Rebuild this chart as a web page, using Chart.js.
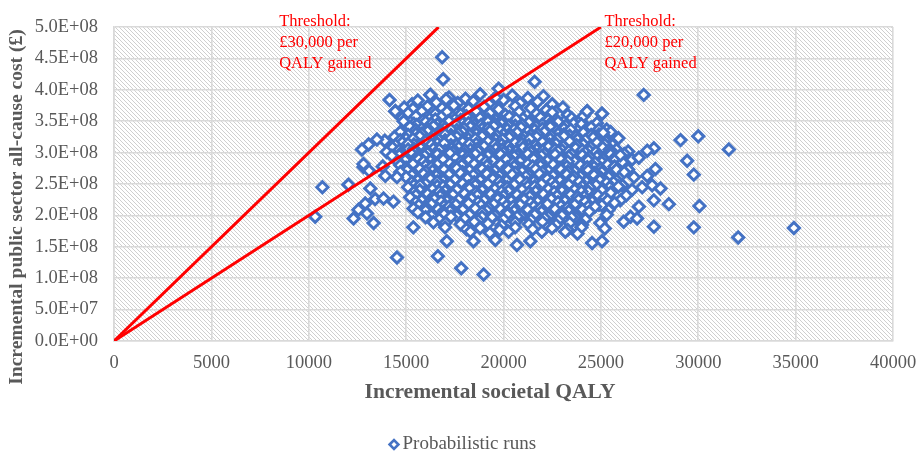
<!DOCTYPE html>
<html>
<head>
<meta charset="utf-8">
<script src="https://cdn.jsdelivr.net/npm/chart.js@4.4.1/dist/chart.umd.min.js"></script>
<style>
  html, body { margin: 0; padding: 0; background: #ffffff; }
  canvas { display: block; }
</style>
</head>
<body>
<canvas id="chart" width="919" height="453"></canvas>
<script>
// Axis ranges (incremental QALY on x, incremental cost in £ on y)
const qalyMax = 40000;
const qalyStep = 5000;
const costMax = 5e8;
const costStep = 5e7;

// Willingness-to-pay thresholds (£ per QALY gained) and their labels
const thresholds = [30000, 20000];
const thresholdLabels = [
  ['Threshold:', '£30,000 per', 'QALY gained'],
  ['Threshold:', '£20,000 per', 'QALY gained']
];
const thresholdLabelQaly = [8480, 25180];

const seriesName = 'Probabilistic runs';

// Probabilistic sensitivity analysis runs: [incremental QALY, incremental cost £]
const probabilisticRuns = [
  [16250,3.92e8],[17200,3.88e8],[18050,3.86e8],[18800,3.93e8],[19750,4.02e8],[20450,3.91e8],[21250,3.87e8],
  [21600,4.13e8],[22050,3.90e8],[16850,4.52e8],[16900,4.17e8],[14150,3.84e8],[15300,3.77e8],
  [14450,3.66e8],[15600,3.83e8],[16550,3.80e8],[17650,3.79e8],[18450,3.82e8],[19250,3.78e8],[20000,3.84e8],
  [20850,3.79e8],[21750,3.81e8],[22500,3.77e8],[17050,3.85e8],[19600,3.88e8],
  [14900,3.72e8],[15350,3.70e8],[16100,3.74e8],[16850,3.71e8],[17450,3.75e8],[18200,3.70e8],[19000,3.73e8],
  [19750,3.69e8],[20600,3.74e8],[21400,3.71e8],[22200,3.68e8],[23050,3.72e8],
  [15100,3.63e8],[15800,3.66e8],[16500,3.62e8],[17100,3.65e8],[17800,3.61e8],[18600,3.66e8],[19300,3.63e8],
  [20100,3.60e8],[20800,3.65e8],[21700,3.62e8],[22500,3.64e8],[23300,3.60e8],[24300,3.66e8],[25050,3.62e8],
  [14800,3.55e8],[15500,3.58e8],[16200,3.54e8],[16800,3.57e8],[17500,3.53e8],[18100,3.58e8],[18800,3.55e8],
  [19600,3.52e8],[20300,3.57e8],[21000,3.54e8],[21900,3.56e8],[22700,3.52e8],[23500,3.55e8],[24100,3.58e8],
  [15850,3.51e8],[16500,3.53e8],[17150,3.50e8],[17800,3.52e8],[18450,3.49e8],[19200,3.53e8],[19900,3.51e8],
  [20650,3.53e8],[21350,3.50e8],[22300,3.52e8],[23100,3.49e8],
  [14870,3.50e8],[15400,3.46e8],[16000,3.49e8],[16600,3.45e8],[17200,3.50e8],[17900,3.47e8],[18500,3.44e8],
  [19200,3.49e8],[19900,3.46e8],[20600,3.43e8],[21300,3.48e8],[22000,3.45e8],[22800,3.49e8],[23600,3.46e8],
  [24200,3.43e8],[24800,3.47e8],
  [15550,3.44e8],[16300,3.46e8],[16900,3.43e8],[17550,3.45e8],[18200,3.47e8],[18850,3.44e8],[19550,3.46e8],
  [20250,3.43e8],[20950,3.45e8],[21650,3.42e8],[22400,3.46e8],[23200,3.43e8],[24000,3.45e8],
  [15200,3.41e8],[15800,3.38e8],[16400,3.42e8],[17000,3.39e8],[17600,3.36e8],[18300,3.41e8],[18900,3.38e8],
  [19500,3.42e8],[20200,3.37e8],[20900,3.40e8],[21600,3.36e8],[22400,3.41e8],[23100,3.38e8],[23800,3.35e8],
  [24500,3.40e8],[25300,3.37e8],
  [15500,3.36e8],[16100,3.38e8],[16750,3.35e8],[17300,3.37e8],[17950,3.39e8],[18600,3.36e8],[19200,3.38e8],
  [19850,3.35e8],[20550,3.37e8],[21250,3.34e8],[22000,3.38e8],[22750,3.35e8],[23450,3.37e8],[24150,3.34e8],
  [24900,3.37e8],
  [14700,3.33e8],[15500,3.30e8],[16100,3.34e8],[16700,3.31e8],[17300,3.28e8],[17900,3.33e8],[18600,3.30e8],
  [19300,3.34e8],[20000,3.29e8],[20700,3.32e8],[21400,3.28e8],[22100,3.33e8],[22800,3.30e8],[23400,3.27e8],
  [24100,3.32e8],[24900,3.29e8],[25500,3.33e8],
  [15100,3.28e8],[15800,3.30e8],[16400,3.27e8],[17000,3.29e8],[17650,3.31e8],[18250,3.28e8],[18950,3.30e8],
  [19650,3.27e8],[20350,3.29e8],[21050,3.26e8],[21750,3.30e8],[22450,3.27e8],[23100,3.29e8],[23750,3.26e8],
  [24500,3.28e8],[25200,3.25e8],
  [14400,3.25e8],[15000,3.22e8],[15700,3.26e8],[16300,3.23e8],[17000,3.20e8],[17600,3.25e8],[18200,3.22e8],
  [18900,3.26e8],[19600,3.21e8],[20300,3.24e8],[21000,3.20e8],[21700,3.25e8],[22400,3.22e8],[23100,3.26e8],
  [23800,3.21e8],[24600,3.24e8],[25200,3.20e8],[25900,3.23e8],
  [14700,3.20e8],[15350,3.22e8],[16000,3.19e8],[16650,3.21e8],[17300,3.23e8],[17950,3.20e8],[18550,3.22e8],
  [19250,3.19e8],[19950,3.21e8],[20650,3.18e8],[21350,3.22e8],[22050,3.19e8],[22750,3.21e8],[23450,3.18e8],
  [24200,3.20e8],[24950,3.17e8],
  [13900,3.19e8],[14800,3.16e8],[15400,3.13e8],[16000,3.18e8],[16600,3.15e8],[17300,3.12e8],[17900,3.17e8],
  [18600,3.14e8],[19200,3.18e8],[19900,3.13e8],[20600,3.16e8],[21300,3.12e8],[22000,3.17e8],[22700,3.14e8],
  [23400,3.18e8],[24100,3.13e8],[24800,3.16e8],[25600,3.12e8],
  [14450,3.12e8],[15100,3.14e8],[15750,3.11e8],[16300,3.13e8],[16950,3.15e8],[17600,3.12e8],[18250,3.14e8],
  [18900,3.11e8],[19550,3.13e8],[20250,3.10e8],[20950,3.14e8],[21650,3.11e8],[22350,3.13e8],[23050,3.10e8],
  [23750,3.12e8],[24450,3.09e8],[25200,3.13e8],
  [14300,3.08e8],[15100,3.05e8],[15700,3.09e8],[16400,3.06e8],[17000,3.03e8],[17700,3.08e8],[18300,3.05e8],
  [19000,3.10e8],[19600,3.06e8],[20300,3.03e8],[21000,3.08e8],[21700,3.05e8],[22300,3.09e8],[23000,3.04e8],
  [23700,3.07e8],[24400,3.03e8],[25100,3.08e8],[25800,3.05e8],[26400,3.02e8],
  [14650,3.04e8],[15400,3.06e8],[16050,3.03e8],[16700,3.05e8],[17350,3.07e8],[18000,3.04e8],[18650,3.06e8],
  [19300,3.03e8],[19950,3.05e8],[20650,3.02e8],[21350,3.06e8],[22000,3.03e8],[22650,3.05e8],[23350,3.02e8],
  [24050,3.04e8],[24750,3.01e8],[25450,3.05e8],
  [14000,3.01e8],[14700,2.98e8],[15400,3.02e8],[16100,2.99e8],[16700,2.96e8],[17400,3.01e8],[18000,2.98e8],
  [18700,3.02e8],[19300,2.97e8],[20000,3.00e8],[20700,2.96e8],[21400,3.01e8],[22100,2.98e8],[22800,3.02e8],
  [23500,2.97e8],[24200,3.00e8],[24900,2.96e8],[25500,3.01e8],[26200,2.98e8],
  [14650,2.96e8],[15300,2.98e8],[15950,2.95e8],[16600,2.97e8],[17250,2.99e8],[17900,2.96e8],[18550,2.98e8],
  [19200,2.95e8],[19850,2.97e8],[20550,2.94e8],[21250,2.98e8],[21950,2.95e8],[22650,2.97e8],[23350,2.94e8],
  [24050,2.96e8],[24800,2.93e8],[25500,2.97e8],
  [14270,2.95e8],[15000,2.91e8],[15600,2.94e8],[16300,2.90e8],[16900,2.93e8],[17600,2.89e8],[18200,2.94e8],
  [18900,2.91e8],[19500,2.88e8],[20200,2.93e8],[20900,2.90e8],[21600,2.94e8],[22300,2.89e8],[23000,2.92e8],
  [23700,2.88e8],[24400,2.93e8],[25100,2.90e8],[25800,2.94e8],[26600,2.89e8],
  [14950,2.88e8],[15650,2.90e8],[16250,2.87e8],[16900,2.89e8],[17550,2.91e8],[18200,2.88e8],[18850,2.90e8],
  [19450,2.87e8],[20150,2.89e8],[20850,2.86e8],[21550,2.90e8],[22250,2.87e8],[22950,2.89e8],[23650,2.86e8],
  [24350,2.88e8],[25050,2.85e8],[25750,2.89e8],
  [14600,2.85e8],[15300,2.82e8],[15900,2.86e8],[16500,2.83e8],[17200,2.80e8],[17800,2.85e8],[18500,2.82e8],
  [19100,2.86e8],[19800,2.81e8],[20500,2.84e8],[21200,2.80e8],[21900,2.85e8],[22600,2.82e8],[23300,2.86e8],
  [24000,2.81e8],[24700,2.84e8],[25400,2.80e8],[26100,2.85e8],
  [14700,2.80e8],[15350,2.82e8],[16000,2.79e8],[16600,2.81e8],[17250,2.83e8],[17850,2.80e8],[18500,2.82e8],
  [19150,2.79e8],[19850,2.81e8],[20550,2.78e8],[21250,2.82e8],[21900,2.79e8],[22550,2.81e8],[23250,2.78e8],
  [23950,2.80e8],[24650,2.77e8],[25350,2.81e8],
  [13800,2.78e8],[15000,2.76e8],[15700,2.73e8],[16300,2.77e8],[16900,2.74e8],[17500,2.78e8],[18200,2.73e8],
  [18800,2.76e8],[19500,2.72e8],[20200,2.77e8],[20900,2.74e8],[21500,2.78e8],[22200,2.73e8],[22900,2.76e8],
  [23600,2.72e8],[24300,2.77e8],[25000,2.74e8],[25700,2.78e8],[26400,2.73e8],
  [15050,2.72e8],[15700,2.74e8],[16350,2.71e8],[16950,2.73e8],[17600,2.75e8],[18250,2.72e8],[18900,2.74e8],
  [19550,2.71e8],[20250,2.73e8],[20950,2.70e8],[21650,2.74e8],[22300,2.71e8],[22950,2.73e8],[23650,2.70e8],
  [24350,2.72e8],[25050,2.69e8],[25800,2.73e8],
  [14700,2.69e8],[15400,2.66e8],[16000,2.70e8],[16600,2.67e8],[17300,2.64e8],[17900,2.69e8],[18600,2.66e8],
  [19200,2.70e8],[19900,2.65e8],[20600,2.68e8],[21300,2.64e8],[22000,2.69e8],[22600,2.66e8],[23300,2.70e8],
  [24000,2.65e8],[24700,2.68e8],[25400,2.64e8],[26200,2.69e8],
  [15300,2.64e8],[15900,2.66e8],[16550,2.63e8],[17200,2.65e8],[17800,2.67e8],[18450,2.64e8],[19150,2.66e8],
  [19800,2.63e8],[20450,2.65e8],[21150,2.62e8],[21850,2.66e8],[22550,2.63e8],[23250,2.65e8],[23950,2.62e8],
  [24650,2.64e8],[25400,2.61e8],
  [15000,2.61e8],[15600,2.58e8],[16200,2.62e8],[16900,2.59e8],[17500,2.56e8],[18100,2.61e8],[18800,2.58e8],
  [19500,2.62e8],[20100,2.57e8],[20800,2.60e8],[21500,2.56e8],[22200,2.61e8],[22900,2.58e8],[23600,2.62e8],
  [24300,2.57e8],[25000,2.60e8],[25800,2.56e8],[26700,2.61e8],
  [15600,2.56e8],[16250,2.58e8],[16900,2.55e8],[17500,2.57e8],[18150,2.59e8],[18800,2.56e8],[19450,2.58e8],
  [20150,2.55e8],[20850,2.57e8],[21550,2.54e8],[22250,2.58e8],[22900,2.55e8],[23550,2.57e8],[24250,2.54e8],
  [24950,2.56e8],[25650,2.53e8],
  [15300,2.53e8],[15900,2.50e8],[16600,2.54e8],[17200,2.51e8],[17800,2.48e8],[18500,2.53e8],[19100,2.50e8],
  [19800,2.54e8],[20500,2.49e8],[21200,2.52e8],[21900,2.48e8],[22500,2.53e8],[23200,2.50e8],[23900,2.54e8],
  [24600,2.49e8],[25300,2.52e8],[26100,2.48e8],
  [15400,2.48e8],[16000,2.50e8],[16600,2.47e8],[17250,2.49e8],[17900,2.51e8],[18550,2.48e8],[19200,2.50e8],
  [19850,2.47e8],[20550,2.49e8],[21250,2.46e8],[21950,2.50e8],[22650,2.47e8],[23350,2.49e8],[24050,2.46e8],
  [24750,2.48e8],[25450,2.45e8],
  [15100,2.45e8],[15720,2.48e8],[16300,2.43e8],[16900,2.46e8],[17600,2.42e8],[18200,2.46e8],[18900,2.43e8],
  [19500,2.40e8],[20200,2.45e8],[20900,2.42e8],[21600,2.46e8],[22300,2.41e8],[23000,2.44e8],[23700,2.40e8],
  [24400,2.45e8],[25100,2.42e8],[25900,2.46e8],[26600,2.41e8],
  [15700,2.40e8],[16350,2.42e8],[17000,2.39e8],[17600,2.41e8],[18250,2.43e8],[18900,2.40e8],[19550,2.42e8],
  [20250,2.39e8],[20950,2.41e8],[21650,2.38e8],[22300,2.42e8],[23000,2.39e8],[23650,2.41e8],[24350,2.38e8],
  [25050,2.40e8],
  [15400,2.37e8],[16000,2.34e8],[16700,2.38e8],[17300,2.35e8],[17900,2.32e8],[18600,2.37e8],[19200,2.34e8],
  [19900,2.38e8],[20600,2.33e8],[21300,2.36e8],[21900,2.32e8],[22600,2.37e8],[23300,2.34e8],[24000,2.38e8],
  [24700,2.33e8],[25500,2.36e8],[26300,2.32e8],
  [15500,2.32e8],[16100,2.34e8],[16750,2.31e8],[17400,2.33e8],[18000,2.35e8],[18650,2.32e8],[19350,2.34e8],
  [20000,2.31e8],[20700,2.33e8],[21350,2.30e8],[22050,2.34e8],[22750,2.31e8],[23450,2.33e8],[24150,2.30e8],
  [24850,2.32e8],
  [15200,2.29e8],[15800,2.26e8],[16400,2.30e8],[17100,2.27e8],[17700,2.24e8],[18300,2.29e8],[19000,2.26e8],
  [19700,2.30e8],[20300,2.25e8],[21000,2.28e8],[21700,2.24e8],[22400,2.29e8],[23100,2.26e8],[23800,2.30e8],
  [24500,2.25e8],[25200,2.28e8],[26000,2.24e8],
  [15800,2.24e8],[16450,2.26e8],[17100,2.23e8],[17700,2.25e8],[18350,2.27e8],[19000,2.24e8],[19700,2.26e8],
  [20400,2.23e8],[21050,2.25e8],[21750,2.22e8],[22450,2.26e8],[23150,2.23e8],[23850,2.25e8],[24550,2.22e8],
  [25350,2.24e8],
  [15500,2.21e8],[16100,2.18e8],[16800,2.22e8],[17400,2.19e8],[18000,2.16e8],[18700,2.21e8],[19400,2.18e8],
  [20000,2.22e8],[20700,2.17e8],[21400,2.20e8],[22100,2.16e8],[22800,2.21e8],[23500,2.18e8],[24200,2.22e8],
  [24900,2.17e8],[25700,2.20e8],
  [15650,2.16e8],[16300,2.18e8],[16950,2.15e8],[17550,2.17e8],[18200,2.19e8],[18850,2.16e8],[19500,2.18e8],
  [20150,2.15e8],[20850,2.17e8],[21550,2.14e8],[22250,2.18e8],[22950,2.15e8],[23650,2.17e8],[24350,2.14e8],
  [25050,2.16e8],
  [15380,2.11e8],[16000,2.13e8],[16600,2.10e8],[17200,2.14e8],[17900,2.11e8],[18500,2.08e8],[19200,2.13e8],
  [19800,2.10e8],[20500,2.14e8],[21200,2.09e8],[21900,2.12e8],[22600,2.08e8],[23300,2.13e8],[24000,2.10e8],
  [24700,2.14e8],[25400,2.09e8],
  [16000,2.08e8],[16650,2.10e8],[17250,2.07e8],[17900,2.09e8],[18550,2.11e8],[19150,2.08e8],[19850,2.10e8],
  [20550,2.07e8],[21250,2.09e8],[21950,2.06e8],[22650,2.10e8],[23350,2.07e8],[24050,2.09e8],
  [15600,2.05e8],[16300,2.02e8],[16900,2.06e8],[17600,2.03e8],[18200,2.00e8],[18900,2.05e8],[19500,2.02e8],
  [20200,2.06e8],[20900,2.01e8],[21600,2.04e8],[22300,2.00e8],[23000,2.05e8],[23700,2.02e8],[24400,2.06e8],
  [25300,2.01e8],
  [16300,2.00e8],[16950,2.02e8],[17600,1.99e8],[18250,2.01e8],[18900,1.98e8],[19550,2.00e8],[20200,2.02e8],
  [20900,1.99e8],[21600,2.01e8],[22300,1.98e8],[23000,2.00e8],[23700,1.97e8],
  [16000,1.97e8],[16700,1.94e8],[17300,1.98e8],[18000,1.95e8],[18700,1.92e8],[19400,1.97e8],[20000,1.94e8],
  [20700,1.98e8],[21400,1.93e8],[22100,1.96e8],[22800,1.92e8],[23500,1.97e8],[24200,1.94e8],[26520,1.98e8],
  [16400,1.89e8],[17010,1.88e8],[17800,1.86e8],[18500,1.90e8],[19200,1.87e8],[19900,1.84e8],[20600,1.89e8],
  [21300,1.86e8],[22000,1.90e8],[22700,1.85e8],[23400,1.88e8],[24030,1.85e8],[24970,1.88e8],[26170,1.90e8],
  [17000,1.81e8],[18100,1.78e8],[18800,1.80e8],[19800,1.77e8],[20600,1.81e8],[21500,1.78e8],[22490,1.80e8],
  [23300,1.77e8],[24000,1.81e8],[25200,1.79e8],[15370,1.81e8],
  [18300,1.74e8],[19300,1.72e8],[20260,1.74e8],[21970,1.74e8],[23170,1.74e8],[23800,1.71e8],
  [18460,1.59e8],[19580,1.61e8],[20690,1.53e8],[21380,1.59e8],[24550,1.56e8],[25060,1.59e8],[17090,1.59e8],
  [16630,1.35e8],[14530,1.33e8],[17830,1.16e8],[18980,1.06e8],
  [10330,1.98e8],[10700,2.45e8],[12040,2.49e8],[12810,2.77e8],[13100,2.71e8],[13930,2.63e8],[14530,2.61e8],
  [13160,2.43e8],[12900,2.19e8],[12550,2.09e8],[12300,1.95e8],[12990,2.03e8],[13330,1.88e8],[13410,2.26e8],
  [13840,2.27e8],[14350,2.22e8],[13500,3.21e8],[13070,3.13e8],[12730,3.05e8],[12810,2.82e8],[14440,3.66e8],
  [16240,3.92e8],
  [27200,3.92e8],[29090,3.20e8],[30000,3.26e8],[31570,3.05e8],[27720,3.07e8],[27380,3.03e8],[26950,2.92e8],
  [29430,2.87e8],[27800,2.74e8],[27380,2.63e8],[29770,2.65e8],[27120,2.45e8],[27630,2.48e8],[28060,2.43e8],
  [27720,2.24e8],[28490,2.18e8],[30060,2.15e8],[26950,2.14e8],[26860,1.95e8],[27720,1.82e8],[29770,1.81e8],
  [32050,1.65e8],[34910,1.80e8],[24290,3.66e8],[25060,3.62e8],[25120,3.32e8],[26000,2.96e8]
];

const SERIF = '"Liberation Serif", "Times New Roman", serif';
const AXIS_GREY = '#595959';
const MARKER_BLUE = '#4472C4';

// "5.0E+08" style scientific labels for the cost axis
function sciLabel(v) {
  if (v === 0) return '0.0E+00';
  const e = Math.floor(Math.log10(Math.abs(v)) + 1e-9);
  const m = v / Math.pow(10, e);
  return m.toFixed(1) + 'E+' + String(e).padStart(2, '0');
}

// Light downward-diagonal hatch fill for the plot area
function makeHatch(ctx) {
  const s = 4;
  const tile = document.createElement('canvas');
  tile.width = s; tile.height = s;
  const t = tile.getContext('2d');
  t.fillStyle = '#ffffff';
  t.fillRect(0, 0, s, s);
  t.strokeStyle = '#cfcfcf';
  t.lineWidth = 1;
  t.beginPath();
  for (let k = -1; k <= 1; k++) {
    t.moveTo(k * s, 0);
    t.lineTo(k * s + s, s);
  }
  t.stroke();
  return ctx.createPattern(tile, 'repeat');
}

function drawDiamond(ctx, x, y, r, w) {
  ctx.beginPath();
  ctx.moveTo(x - r, y);
  ctx.lineTo(x, y - r);
  ctx.lineTo(x + r, y);
  ctx.lineTo(x, y + r);
  ctx.closePath();
  ctx.fillStyle = '#ffffff';
  ctx.fill();
  ctx.lineWidth = w;
  ctx.strokeStyle = MARKER_BLUE;
  ctx.stroke();
}

const decorations = {
  id: 'decorations',
  beforeDraw(chart) {
    const { ctx, chartArea: a } = chart;
    ctx.save();
    ctx.fillStyle = '#ffffff';
    ctx.fillRect(0, 0, chart.width, chart.height);
    ctx.fillStyle = makeHatch(ctx);
    ctx.fillRect(a.left, a.top, a.right - a.left, a.bottom - a.top);
    ctx.restore();
  },
  afterDraw(chart) {
    const { ctx, chartArea: a, scales } = chart;
    ctx.save();

    // threshold annotations
    ctx.fillStyle = '#ff0000';
    ctx.font = '16.5px ' + SERIF;
    ctx.textAlign = 'left';
    ctx.textBaseline = 'alphabetic';
    thresholdLabels.forEach((lines, i) => {
      const x = scales.x.getPixelForValue(thresholdLabelQaly[i]);
      lines.forEach((txt, j) => ctx.fillText(txt, x, 26.3 + j * 20.7));
    });

    // axis titles
    ctx.fillStyle = AXIS_GREY;
    ctx.font = 'bold 21.5px ' + SERIF;
    ctx.textAlign = 'center';
    ctx.textBaseline = 'middle';
    ctx.fillText('Incremental societal QALY', 490, 392);
    ctx.save();
    ctx.font = 'bold 19.5px ' + SERIF;
    ctx.translate(22, 207);
    ctx.rotate(-Math.PI / 2);
    ctx.textBaseline = 'alphabetic';
    ctx.fillText('Incremental public sector all-cause cost (£)', 0, 0);
    ctx.restore();

    // legend
    drawDiamond(ctx, 394, 444.5, 4.4, 2.6);
    ctx.fillStyle = AXIS_GREY;
    ctx.font = '19px ' + SERIF;
    ctx.textAlign = 'left';
    ctx.textBaseline = 'middle';
    ctx.fillText(seriesName, 402.5, 444);
    ctx.restore();
  }
};

const thresholdDatasets = thresholds.map(t => ({
  type: 'line',
  label: '£' + t + ' per QALY',
  data: [{ x: 0, y: 0 }, { x: costMax / t, y: costMax }],
  borderColor: '#ff0000',
  borderWidth: 3,
  pointRadius: 0,
  fill: false,
  order: 0
}));

new Chart(document.getElementById('chart'), {
  type: 'scatter',
  data: {
    datasets: [
      ...thresholdDatasets,
      {
        label: seriesName,
        data: probabilisticRuns.map(([x, y]) => ({ x, y })),
        pointStyle: 'rectRot',
        pointRadius: 5.6,
        pointBorderWidth: 3,
        pointBorderColor: MARKER_BLUE,
        pointBackgroundColor: '#ffffff',
        order: 1
      }
    ]
  },
  options: {
    responsive: false,
    animation: false,
    devicePixelRatio: 1,
    layout: { padding: { left: 0, top: 21, right: 26, bottom: 0 } },
    plugins: { legend: { display: false }, tooltip: { enabled: false } },
    scales: {
      x: {
        type: 'linear',
        min: 0, max: qalyMax,
        afterFit: s => { s.height = 112; s.paddingLeft = 0; s.paddingRight = 0; },
        grid: { color: '#d9d9d9', lineWidth: 1.6, drawTicks: false },
        border: { color: '#d9d9d9', width: 1.6 },
        ticks: {
          stepSize: qalyStep,
          padding: 11,
          color: AXIS_GREY,
          font: { family: SERIF, size: 18.5 },
          maxRotation: 0,
          callback: v => String(v)
        }
      },
      y: {
        type: 'linear',
        min: 0, max: costMax,
        afterFit: s => { s.width = 114; },
        grid: { color: '#d9d9d9', lineWidth: 1.6, drawTicks: false },
        border: { color: '#d9d9d9', width: 1.6 },
        ticks: {
          stepSize: costStep,
          padding: 16,
          color: AXIS_GREY,
          font: { family: SERIF, size: 18.5 },
          callback: v => sciLabel(v)
        }
      }
    }
  },
  plugins: [decorations]
});
</script>
</body>
</html>
